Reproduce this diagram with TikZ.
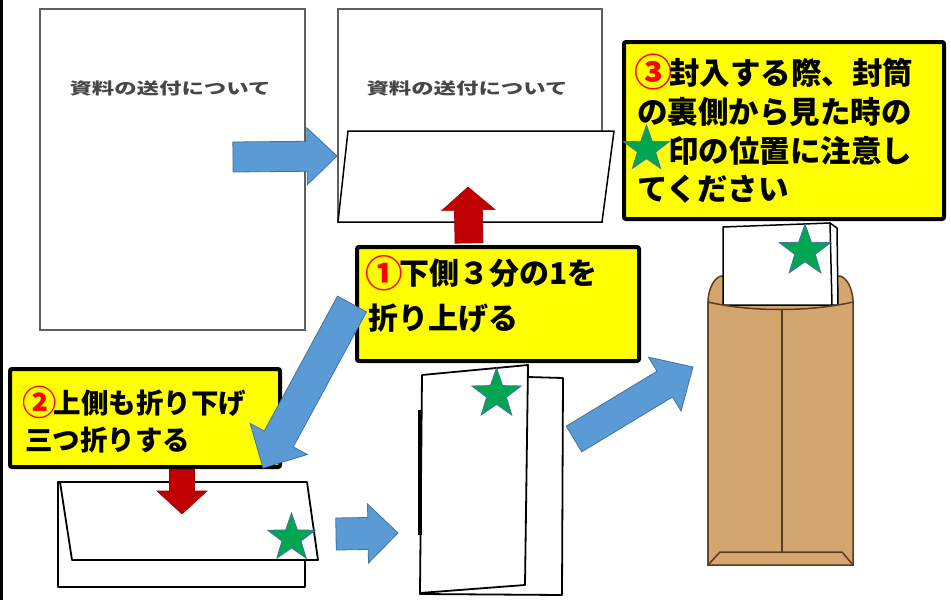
\documentclass[tikz,border=0pt]{standalone}
\usepackage{fontspec}
\usepackage{graphicx}
\usepackage{tikz}
\usetikzlibrary{shapes.geometric}
\newfontfamily\jpfont{Noto Sans CJK JP}
\definecolor{arrowblue}{RGB}{91,155,213}
\definecolor{arrowedge}{RGB}{65,113,156}
\definecolor{foldred}{RGB}{192,0,0}
\definecolor{notefill}{RGB}{255,255,0}
\definecolor{stargreen}{RGB}{0,166,81}
\definecolor{staredge}{RGB}{68,114,160}
\definecolor{kraft}{RGB}{211,166,112}
\definecolor{kraftedge}{RGB}{90,60,35}
\definecolor{papergray}{RGB}{95,95,95}

% block arrow: [style] tail x, tail y, tip x, tip y, shaft width, head width, head length
\newcommand{\blockarrow}[8][flow]{%
  \pgfmathsetmacro{\baang}{atan2(#3-#5,#4-#2)}%
  \pgfmathsetmacro{\balen}{veclen(#4-#2,#5-#3)}%
  \begin{scope}[shift={(#2,#3)},rotate=\baang]
    \path[#1] (0,-#6/2) -- (\balen-#8,-#6/2) -- (\balen-#8,-#7/2) -- (\balen,0)
      -- (\balen-#8,#7/2) -- (\balen-#8,#6/2) -- (0,#6/2) -- cycle;
  \end{scope}}
% red step number
\newcommand{\stepno}[1]{\textcolor{red}{\raisebox{-0.09em}{\scalebox{1.25}{#1}}}\kern-0.1em}

\begin{document}
\begin{tikzpicture}[
    x=1pt, y=-1pt,
    sheet/.style={draw=papergray, line width=2pt, fill=white},
    folded/.style={draw=black, line width=1.8pt, fill=white, line join=round},
    doctitle/.style={font=\jpfont\bfseries\fontsize{16}{16}\selectfont, text=black!72, inner sep=0},
    callout/.style={draw=black, line width=4pt, fill=notefill, rounded corners=2pt, inner sep=0},
    stepline/.style={font=\jpfont\bfseries\fontsize{30}{36}\selectfont, inner sep=0, anchor=base west},
    flow/.style={fill=arrowblue, draw=arrowedge, line width=0.8pt, line join=miter},
    push/.style={fill=foldred, draw=foldred!80!black, line width=0.6pt},
    starmark/.style={star, star points=5, star point ratio=2.5, fill=stargreen, draw=staredge, line width=0.8pt, inner sep=0}
]
\useasboundingbox (0,0) rectangle (951,600);
\fill[black] (0,0) rectangle (3,600);

% flat sheet
\draw[sheet] (40,9) rectangle (305,330);
\node[doctitle] (title1) at (170,88) {\scalebox{1.4}[1]{資料の送付について}};

% sheet with the lower third folded up
\draw[sheet] (338,9) rectangle (602,222);
\node[doctitle] (title2) at (467,88) {\scalebox{1.4}[1]{資料の送付について}};
\draw[folded, line width=1.5pt] (348,131) -- (614,131) -- (602,222) -- (338,222) -- cycle;

% lower fold pushed up
\blockarrow[push]{469}{243}{468}{187}{28}{53}{23}

% upper third folded down
\draw[folded] (58,482) rectangle (305,587);
\draw[folded] (60,482) -- (307,482) -- (318,560) -- (72,560) -- cycle;
\blockarrow[push]{182}{468}{182}{514}{25}{50}{23}

% tri-folded sheet standing up
\draw[folded] (528,377) -- (563,378) -- (562,595) -- (420,594) -- cycle;
\draw[folded] (422,375) -- (528,365) -- (525,585) -- (420,593) -- cycle;
\draw[line width=3.5pt] (420,410) -- (420,535);

% envelope, back side
\draw[fill=kraft, draw=kraftedge, line width=1.5pt]
  (708,565) -- (708,300) .. controls (709,288) and (714,278) .. (721,276) -- (840,276)
  .. controls (847,278) and (852,288) .. (853,300) -- (853,565) -- cycle;
\draw[folded, line width=1.5pt] (830,223) -- (837,228) -- (838,305) -- (830,305) -- cycle;
\draw[folded, line width=1.5pt] (723,227) -- (830,223) -- (832,305) -- (723,305) -- cycle;
\draw[fill=kraft, draw=kraftedge, line width=1.5pt]
  (708,565) -- (708,302) .. controls (750,312) and (810,312) .. (853,302) -- (853,565) -- cycle;
\draw[kraftedge, line width=2.5pt] (782,310) -- (782,552);
\draw[kraftedge, line width=1.5pt] (708,565) -- (720,552) -- (842,552) -- (853,565);

% step notes
\node[callout, minimum width=320, minimum height=177, anchor=north west] (note3) at (622,40) {};
\node[stepline, font=\jpfont\bfseries\fontsize{30.5}{36}\selectfont] (note3a) at (634,84) {\stepno{③}封入する際、封筒};
\node[stepline, font=\jpfont\bfseries\fontsize{30.5}{36}\selectfont] (note3b) at (637,123) {の裏側から見た時の};
\node[stepline, font=\jpfont\bfseries\fontsize{30.5}{36}\selectfont] (note3c) at (668,162) {印の位置に注意し};
\node[stepline, font=\jpfont\bfseries\fontsize{30.5}{36}\selectfont] (note3d) at (637,200) {てください};

\node[callout, minimum width=282, minimum height=114, anchor=north west] (note1) at (355,245) {};
\node[stepline] (note1a) at (365,284.5) {\stepno{①}下側３分の1を};
\node[stepline] (note1b) at (368,329.5) {折り上げる};

\node[callout, minimum width=270, minimum height=98, anchor=north west] (note2) at (8,367) {};
\node[stepline, font=\jpfont\bfseries\fontsize{27.5}{33}\selectfont] (note2a) at (22,413.5) {\stepno{②}上側も折り下げ};
\node[stepline, font=\jpfont\bfseries\fontsize{27.5}{33}\selectfont] (note2b) at (25,450.5) {三つ折りする};

% order of the steps
\blockarrow{233}{157}{337}{156}{30}{57}{30}
\blockarrow{352}{304}{263}{468}{33}{65}{33}
\blockarrow{336}{534}{398}{533}{32}{59}{30}
\blockarrow{574}{439}{693}{367}{30}{63}{33}

% star marks
\node[starmark, minimum size=48] (star3) at (646.5,149) {};
\node[starmark, minimum size=52] (star4) at (496.5,394) {};
\node[starmark, minimum size=50] (star2) at (291.5,538) {};
\node[starmark, minimum size=54] (star5) at (805,251) {};

\end{tikzpicture}
\end{document}
